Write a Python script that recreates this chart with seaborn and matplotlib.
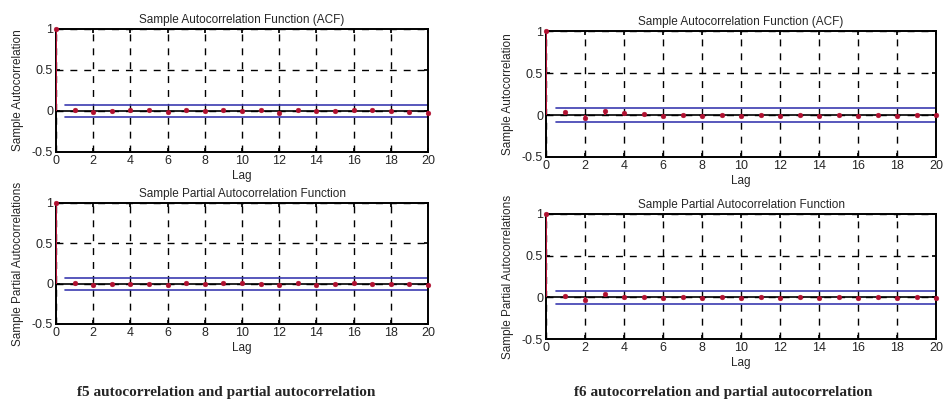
import numpy as np
import pandas as pd
import seaborn as sns
import matplotlib
matplotlib.use("Agg")
import matplotlib.pyplot as plt
from matplotlib.ticker import FuncFormatter

# datos
lags = list(range(0, 21))
f5_acf = [1, 0.01, -0.01, 0.0, 0.01, 0.01, -0.01, 0.01, 0.005, 0.01, 0.005,
          0.01, -0.02, 0.01, -0.005, 0.0, 0.015, 0.01, -0.005, -0.01, -0.02]
f5_pacf = [1, 0.01, -0.015, -0.01, -0.005, 0.0, -0.015, 0.01, -0.005, 0.01, 0.005,
           0.0, -0.02, 0.01, -0.02, -0.01, 0.005, 0.0, -0.005, -0.01, -0.02]
f6_acf = [1, 0.03, -0.03, 0.045, 0.02, 0.01, -0.01, 0.0, -0.01, 0.0, -0.01,
          0.0, -0.01, 0.0, -0.01, 0.0, -0.01, 0.0, -0.01, 0.0, 0.0]
f6_pacf = [1, 0.02, -0.03, 0.04, 0.01, 0.0, -0.005, 0.0, -0.005, 0.0, -0.005,
           0.0, -0.005, 0.0, -0.005, 0.0, -0.005, 0.0, -0.005, 0.0, -0.005]
bound_f5 = 0.073
bound_f6 = 0.078

titles = ["Sample Autocorrelation Function (ACF)", "Sample Partial Autocorrelation Function"]
ylabels = ["Sample Autocorrelation", "Sample Partial Autocorrelations"]
captions = ["f5 autocorrelation and partial autocorrelation",
            "f6 autocorrelation and partial autocorrelation"]

sns.set_theme(style="white")
plt.rcParams["font.family"] = ["Liberation Sans", "DejaVu Sans"]

fig = plt.figure(figsize=(9.43, 4.08), dpi=100)

posiciones = [
    [0.0594, 0.6275, 0.3945, 0.3015],
    [0.0594, 0.2059, 0.3945, 0.2966],
    [0.579, 0.6152, 0.4136, 0.3088],
    [0.579, 0.1691, 0.4136, 0.3064],
]
series = [f5_acf, f5_pacf, f6_acf, f6_pacf]
bounds = [bound_f5, bound_f5, bound_f6, bound_f6]

def fmt(v, pos):
    if abs(v - round(v)) < 1e-9:
        return str(int(round(v)))
    return f"{v:g}"

rojo = "#c0143c"

for i, (pos, vals, b) in enumerate(zip(posiciones, series, bounds)):
    ax = fig.add_axes(pos)
    df = pd.DataFrame({"Lag": lags, "valor": vals})
    ax.vlines(df["Lag"], 0, df["valor"], color=rojo, lw=1.4, zorder=3)
    sns.scatterplot(data=df, x="Lag", y="valor", ax=ax, color="#b01030",
                    s=12, edgecolor="#b01030", zorder=4, clip_on=False)
    ax.axhline(0, color="black", lw=1.2, zorder=2)
    ax.plot([0.5, 20], [b, b], color="#3b3bb0", lw=1.2, zorder=2)
    ax.plot([0.5, 20], [-b, -b], color="#3b3bb0", lw=1.2, zorder=2)
    ax.set_xlim(0, 20)
    ax.set_ylim(-0.5, 1)
    ax.set_xticks(range(0, 21, 2))
    ax.set_yticks([-0.5, 0, 0.5, 1])
    ax.yaxis.set_major_formatter(FuncFormatter(fmt))
    ax.grid(True, color="black", ls=(0, (5, 5)), lw=1.0)
    ax.tick_params(direction="in", length=3, labelsize=9, pad=2,
                   bottom=True, left=True, top=True, right=True, color="black")
    for s in ax.spines.values():
        s.set_color("black")
        s.set_linewidth(1.4)
    ax.set_title(titles[i % 2], fontsize=8.5, pad=4)
    ax.set_ylabel(ylabels[i % 2], fontsize=8.5, labelpad=6)
    ax.set_xlabel("Lag", fontsize=8.5, labelpad=2)

fig.text(0.24, 0.039, captions[0], ha="center", va="center", fontsize=11,
         fontweight="bold", family=["Liberation Serif", "DejaVu Serif"])
fig.text(0.767, 0.039, captions[1], ha="center", va="center", fontsize=11,
         fontweight="bold", family=["Liberation Serif", "DejaVu Serif"])

plt.savefig("out.png", dpi=100)
